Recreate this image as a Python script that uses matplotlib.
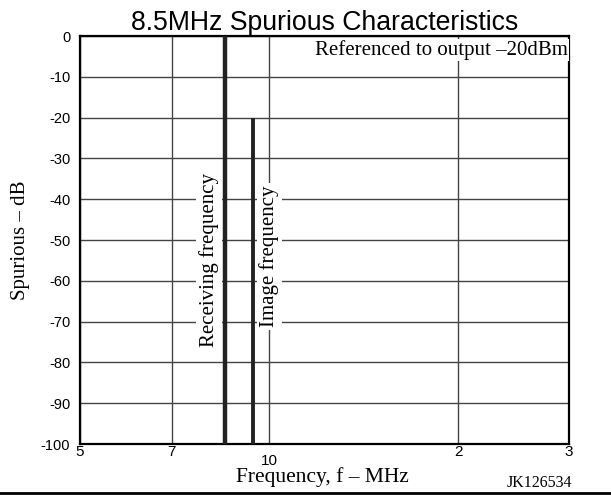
import matplotlib
matplotlib.use("Agg")
import matplotlib.pyplot as plt
from matplotlib.lines import Line2D

# data
freq_ticks = [5, 7, 10, 20, 30]
freq_labels = ["5", "7", "10", "2", "3"]
db_ticks = [0, -10, -20, -30, -40, -50, -60, -70, -80, -90, -100]
recv_freq = 8.5      # MHz, full height line
recv_level = 0
image_freq = 9.41    # MHz, 8.5 + 2 x 0.455
image_level = -20

sans = "Liberation Sans"
serif = "Liberation Serif"

fig = plt.figure(figsize=(6.11, 4.95), dpi=100)
ax = fig.add_axes([80 / 611, 1 - 444 / 495, (569 - 80) / 611, (444 - 36) / 495])

ax.set_xscale("log")
ax.set_xlim(5, 30)
ax.set_ylim(-100, 0)
ax.set_xticks(freq_ticks)
ax.set_xticklabels(freq_labels, fontfamily=sans, fontsize=11)
ax.xaxis.set_minor_locator(matplotlib.ticker.NullLocator())
ax.set_yticks(db_ticks)
ax.set_yticklabels([str(v) for v in db_ticks], fontfamily=sans, fontsize=10.5)
ax.tick_params(axis="y", length=0, pad=7)
ax.tick_params(axis="x", length=0, pad=1)
# the "10" label sits lower than the others
ax.get_xticklabels()[2].set_y(-0.022)

ax.grid(True, color="#444444", linewidth=1.0)
for s in ax.spines.values():
    s.set_linewidth(1.6)

# spurious lines
ax.vlines(recv_freq, -100, recv_level, color="#222222", linewidth=3.2, zorder=3)
ax.vlines(image_freq, -100, image_level, color="#222222", linewidth=2.8, zorder=3)

bb = dict(facecolor="white", edgecolor="none", pad=2)
ax.text(8.02, -55, "Receiving frequency", rotation=90, ha="center", va="center",
        fontfamily=serif, fontsize=15, bbox=bb, zorder=4)
ax.text(10.0, -54, "Image frequency", rotation=90, ha="center", va="center",
        fontfamily=serif, fontsize=15, bbox=bb, zorder=4)
ax.text(0.998, 0.99, "Referenced to output \u201320dBm", transform=ax.transAxes,
        ha="right", va="top", fontfamily=serif, fontsize=15,
        bbox=dict(facecolor="white", edgecolor="none", pad=1), zorder=4)

ax.set_title("8.5MHz Spurious Characteristics", fontfamily=sans, fontsize=19.2, pad=4)
ax.set_ylabel("Spurious \u2013 dB", fontfamily=serif, fontsize=15, labelpad=8)
fig.text(322 / 611, 1 - 477 / 495, "Frequency, f \u2013 MHz", ha="center", va="center",
         fontfamily=serif, fontsize=15.5)

fig.text(572 / 611, 1 - 483 / 495, "JK126534", ha="right", va="center",
         fontfamily=serif, fontsize=11.5)
fig.add_artist(Line2D([0, 1], [1 - 493 / 495, 1 - 493 / 495], color="black",
                      linewidth=2, transform=fig.transFigure))

fig.savefig("out.png", dpi=100)
